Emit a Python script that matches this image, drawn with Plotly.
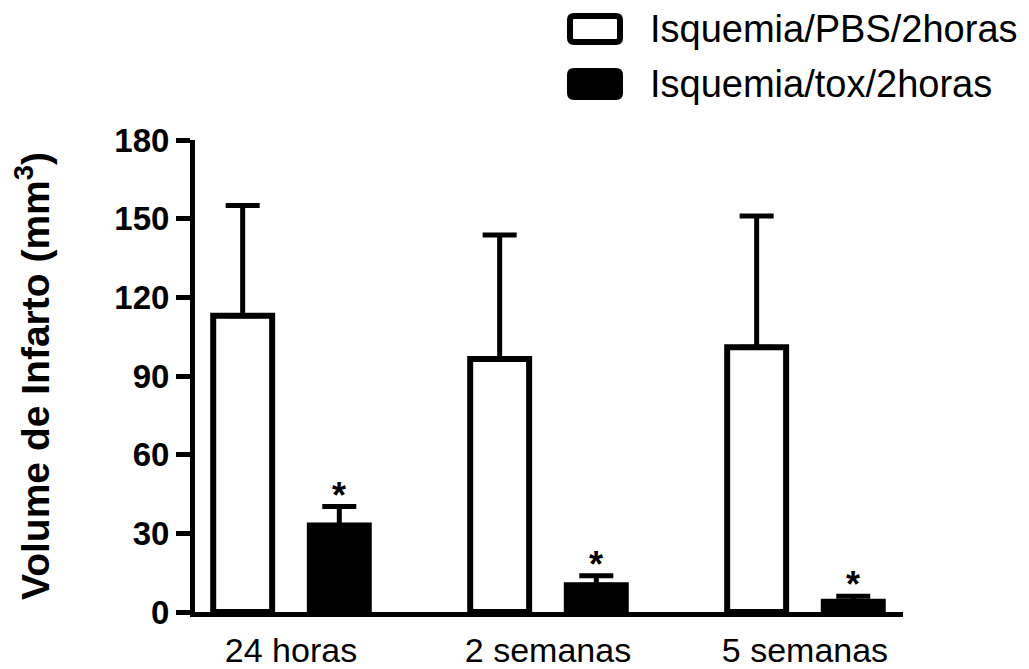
import plotly.graph_objects as go

# ---- data ----
categories = ["24 horas", "2 semanas", "5 semanas"]
pbs_values = [113.0, 96.5, 101.0]
pbs_errors = [42.0, 47.3, 50.0]
tox_values = [33.0, 10.2, 3.9]
tox_errors = [7.2, 3.6, 2.1]
legend_names = ["Isquemia/PBS/2horas", "Isquemia/tox/2horas"]
y_ticks = [0, 30, 60, 90, 120, 150, 180]

W, H = 1029, 669
ML, MR, MT, MB = 195, 126, 140, 57
BARGAP = 0.248
BARGROUPGAP = 0.39
FONT = "Liberation Sans, Arial, sans-serif"

fig = go.Figure()
fig.add_trace(go.Bar(
    x=categories, y=pbs_values, name=legend_names[0],
    marker=dict(color="white", line=dict(color="black", width=6)),
    error_y=dict(type="data", symmetric=False, array=pbs_errors,
                 arrayminus=[0] * len(pbs_errors),
                 color="black", thickness=5, width=17),
    showlegend=False,
))
fig.add_trace(go.Bar(
    x=categories, y=tox_values, name=legend_names[1],
    marker=dict(color="black", line=dict(color="black", width=6)),
    error_y=dict(type="data", symmetric=False, array=tox_errors,
                 arrayminus=[0] * len(tox_errors),
                 color="black", thickness=5, width=17),
    showlegend=False,
))

# significance asterisks above the tox error bars
slot = (1 - BARGAP) / 2
annotations = []
for i, (v, e) in enumerate(zip(tox_values, tox_errors)):
    annotations.append(dict(
        x=i + slot / 2, y=v + e, xref="x", yref="y",
        text="<b>*</b>", showarrow=False, yanchor="bottom",
        yshift=-11, font=dict(family=FONT, size=36, color="black"),
    ))

# manual legend (large boxes as in reference)
pw, ph = W - ML - MR, H - MT - MB
def px2paper_x(px):
    return (px - ML) / pw
def px2paper_y(py):
    return (H - MB - py) / ph

def rounded_rect(x0, y0, x1, y1, r):
    X = px2paper_x
    Y = px2paper_y
    return (f"M {X(x0 + r)},{Y(y0)} L {X(x1 - r)},{Y(y0)} "
            f"Q {X(x1)},{Y(y0)} {X(x1)},{Y(y0 + r)} "
            f"L {X(x1)},{Y(y1 - r)} Q {X(x1)},{Y(y1)} {X(x1 - r)},{Y(y1)} "
            f"L {X(x0 + r)},{Y(y1)} Q {X(x0)},{Y(y1)} {X(x0)},{Y(y1 - r)} "
            f"L {X(x0)},{Y(y0 + r)} Q {X(x0)},{Y(y0)} {X(x0 + r)},{Y(y0)} Z")

shapes = []
legend_rows = [29, 84]
fills = ["white", "black"]
for name, cy, fill in zip(legend_names, legend_rows, fills):
    shapes.append(dict(
        type="path", xref="paper", yref="paper",
        path=rounded_rect(570, cy - 13, 620, cy + 13, 4),
        line=dict(color="black", width=6), fillcolor=fill, layer="above",
    ))
    annotations.append(dict(
        x=px2paper_x(648), y=px2paper_y(cy), xref="paper", yref="paper",
        text=name, showarrow=False, xanchor="left", yanchor="middle",
        font=dict(family=FONT, size=38, color="black"),
    ))

fig.update_layout(
    width=W, height=H,
    margin=dict(l=ML, r=MR, t=MT, b=MB, autoexpand=False),
    paper_bgcolor="white", plot_bgcolor="white",
    barmode="group", bargap=BARGAP, bargroupgap=BARGROUPGAP,
    font=dict(family=FONT, color="black"),
    shapes=shapes, annotations=annotations,
    showlegend=False,
)
fig.update_xaxes(
    range=[-0.3735, 2.3815], showline=True, linewidth=5, linecolor="black",
    ticks="", showgrid=False, zeroline=False,
    tickfont=dict(family=FONT, size=34, color="black"),
    ticklabelstandoff=4,
)
fig.update_yaxes(
    range=[0, 180], tickvals=y_ticks, showline=True, linewidth=5,
    linecolor="black", ticks="outside", ticklen=14, tickwidth=5,
    tickcolor="black", showgrid=False, zeroline=False,
    tickfont=dict(family=FONT, size=33, color="black", weight="bold"),
    title=dict(text="Volume de Infarto (mm<sup>3</sup>)",
               font=dict(family=FONT, size=39, color="black", weight="bold"),
               standoff=54),
)

fig.write_html("out.html", config={"displayModeBar": False},
               post_script="document.body.style.margin='0';")
